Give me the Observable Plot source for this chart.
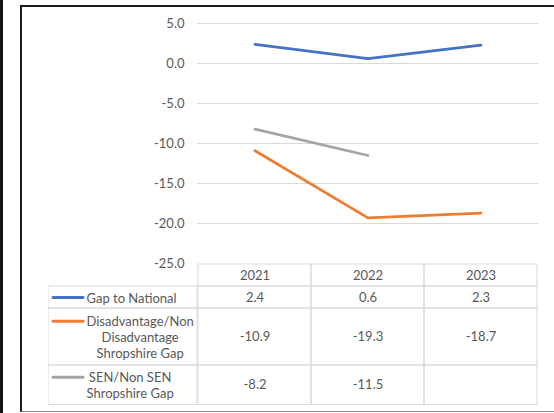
<!DOCTYPE html>
<html>
<head>
<meta charset="utf-8">
<script src="https://cdn.jsdelivr.net/npm/d3@7"></script>
<script src="https://cdn.jsdelivr.net/npm/@observablehq/plot@0.6"></script>
<style>
  body { margin: 0; background: #fff; }
  #page { position: relative; width: 554px; height: 413px; overflow: hidden; font-family: Lato, sans-serif; }
  #strip { position: absolute; left: 0; top: 0; width: 3px; height: 413px; background: #111; }
  #frame { position: absolute; left: 20px; top: 5px; width: 560px; height: 404px;
           border-left: 2px solid #1a1a1a; border-top: 2px solid #1a1a1a; border-bottom: 1px solid #8c8c8c; }
  .layer { position: absolute; left: 0; top: 0; }
</style>
</head>
<body>
<div id="page">
  <div id="strip"></div>
  <div id="frame"></div>
  <div id="chart" class="layer"></div>
  <div id="table" class="layer" style="top:263px"></div>
  <div id="labels" class="layer" style="top:263px;left:48px"></div>
</div>
<script>
// datos
const years = ['2021', '2022', '2023']
const seriesNames = ['Gap to National', 'Disadvantage/Non Disadvantage Shropshire Gap', 'SEN/Non SEN Shropshire Gap']
const seriesLabels = ['Gap to National', 'Disadvantage/Non\nDisadvantage\nShropshire Gap', 'SEN/Non SEN\nShropshire Gap']
const gapToNational = [2.4, 0.6, 2.3]
const disadvantageGap = [-10.9, -19.3, -18.7]
const senGap = [-8.2, -11.5, null]
const colors = ['#4472C4', '#ED7D31', '#A5A5A5']
const yTicks = [5, 0, -5, -10, -15, -20, -25]

const font = 'Lato, sans-serif'
const textColor = '#595959'
const gridColor = '#d9d9d9'

const series = seriesNames.map((name, i) => ({
  name,
  label: seriesLabels[i],
  values: [gapToNational, disadvantageGap, senGap][i],
}))

const points = series
  .flatMap(s => years.map((year, j) => ({ series: s.name, year, value: s.values[j] })))
  .filter(d => d.value != null)

// grafico de lineas
let chart = Plot.plot({
  width: 554,
  height: 270,
  marginTop: 23,
  marginBottom: 7,
  marginLeft: 197,
  marginRight: 16,
  style: { fontFamily: font, fontSize: '13px', color: textColor, background: 'transparent' },
  x: { type: 'band', domain: years, padding: 0, axis: null },
  y: { domain: [-25, 5] },
  color: { domain: seriesNames, range: colors },
  marks: [
    Plot.ruleY(yTicks.slice(0, -1), { stroke: gridColor, strokeWidth: 1 }),
    Plot.axisY(yTicks, { tickSize: 0, tickPadding: 13, tickFormat: d => d.toFixed(1), label: null, fontSize: 13 }),
    Plot.line(points, {
      x: 'year', y: 'value', z: 'series', stroke: 'series',
      strokeWidth: 2.75, strokeLinecap: 'round', strokeLinejoin: 'round',
    }),
  ],
})
d3.select('#chart').append(() => chart)

// tabla de datos
const rowLines = [1, ...seriesLabels.map(l => l.split('\n').length)]
const rowTop = Array.from(d3.cumsum([0, ...rowLines.map(n => 4.5 + 17.5 * n)]))
const total = rowTop[rowTop.length - 1]

const cells = rowLines.flatMap((n, i) => years.map((year, j) => ({
  year,
  top: rowTop[i],
  bottom: rowTop[i + 1],
  text: i === 0 ? year : (series[i - 1].values[j] == null ? '' : series[i - 1].values[j].toFixed(1)),
})))

let table = Plot.plot({
  width: 554,
  height: 150,
  marginTop: 0,
  marginBottom: 0,
  marginLeft: 197,
  marginRight: 16,
  style: { fontFamily: font, fontSize: '13px', color: textColor, background: 'transparent' },
  x: { type: 'band', domain: years, padding: 0, axis: null },
  y: { domain: [0, total], range: [1, total + 1], axis: null },
  marks: [
    Plot.barY(cells, { x: 'year', y1: 'top', y2: 'bottom', fill: 'none', stroke: gridColor }),
    Plot.text(cells, { x: 'year', y: d => (d.top + d.bottom) / 2, text: 'text', fill: textColor, fontSize: 13 }),
  ],
})
d3.select('#table').append(() => table)

// columna de leyenda
const ctx = document.createElement('canvas').getContext('2d')
ctx.font = '13px Lato'
const lineHeight = 1.22
const colWidth = 149

const labelRows = series.map((s, i) => {
  const lines = s.label.split('\n')
  const w = d3.max(lines, l => ctx.measureText(l).width)
  return {
    ...s,
    col: 'label',
    top: rowTop[i + 1],
    bottom: rowTop[i + 2],
    mid: (rowTop[i + 1] + rowTop[i + 2]) / 2,
    lines: lines.length,
    dx: 38 + w / 2 - colWidth / 2,
  }
})

let labels = Plot.plot({
  width: colWidth + 1,
  height: 150,
  marginTop: 0,
  marginBottom: 0,
  marginLeft: 0,
  marginRight: 1,
  style: { fontFamily: font, fontSize: '13px', color: textColor, background: 'transparent' },
  x: { type: 'band', domain: ['label'], padding: 0, axis: null },
  y: { domain: [0, total], range: [1, total + 1], axis: null },
  color: { domain: seriesNames, range: colors },
  marks: [
    Plot.barY(labelRows, { x: 'col', y1: 'top', y2: 'bottom', fill: 'none', stroke: gridColor }),
    Plot.tickY(labelRows, {
      x: 'col',
      y: d => d.mid - (d.lines - 1) / 2 * lineHeight * 13,
      stroke: 'name', strokeWidth: 3, strokeLinecap: 'round',
      insetLeft: 5, insetRight: colWidth - 35,
    }),
    ...labelRows.map(r => Plot.text([r], {
      x: 'col', y: 'mid', text: 'label', lineHeight,
      fill: textColor, fontSize: 13, dx: r.dx,
    })),
  ],
})
d3.select('#labels').append(() => labels)
</script>
</body>
</html>
